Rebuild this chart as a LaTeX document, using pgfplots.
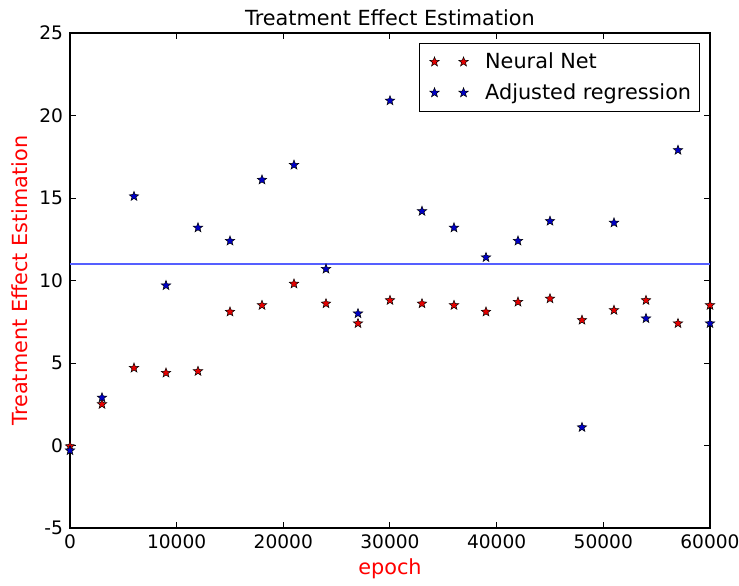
\documentclass[border=0pt]{standalone}
\usepackage{fontspec}
\setmainfont{DejaVu Sans}
\usepackage{pgfplots}
\pgfplotsset{compat=1.18}
\definecolor{nnred}{RGB}{230,0,0}
\definecolor{regblue}{RGB}{0,0,200}
\definecolor{reflineblue}{RGB}{85,95,255}

% filled five-pointed star, like matplotlib's '*'
\pgfdeclareplotmark{fstar}{%
  \pgfpathmoveto{\pgfqpointpolar{90}{\pgfplotmarksize}}%
  \pgfpathlineto{\pgfqpointpolar{126}{0.42\pgfplotmarksize}}%
  \pgfpathlineto{\pgfqpointpolar{162}{\pgfplotmarksize}}%
  \pgfpathlineto{\pgfqpointpolar{198}{0.42\pgfplotmarksize}}%
  \pgfpathlineto{\pgfqpointpolar{234}{\pgfplotmarksize}}%
  \pgfpathlineto{\pgfqpointpolar{270}{0.42\pgfplotmarksize}}%
  \pgfpathlineto{\pgfqpointpolar{306}{\pgfplotmarksize}}%
  \pgfpathlineto{\pgfqpointpolar{342}{0.42\pgfplotmarksize}}%
  \pgfpathlineto{\pgfqpointpolar{18}{\pgfplotmarksize}}%
  \pgfpathlineto{\pgfqpointpolar{54}{0.42\pgfplotmarksize}}%
  \pgfpathclose
  \pgfusepathqfillstroke
}

% two stars side by side for the legend (matplotlib numpoints=2)
\newcommand\legmarks[1]{%
  \begin{pgfscope}
    \pgfpathrectangle{\pgfpoint{0cm}{-3pt}}{\pgfpoint{1.02cm}{6pt}}%
    \pgfusepath{use as bounding box}%
    \pgfsetfillcolor{#1}\pgfsetstrokecolor{black}%
    \pgfsetlinewidth{0.25pt}\pgfsetplotmarksize{2.5pt}%
    \begin{pgfscope}\pgftransformshift{\pgfpoint{0.2cm}{0pt}}\pgfuseplotmark{fstar}\end{pgfscope}%
    \begin{pgfscope}\pgftransformshift{\pgfpoint{0.71cm}{0pt}}\pgfuseplotmark{fstar}\end{pgfscope}%
  \end{pgfscope}}

\begin{document}
\begin{tikzpicture}
\begin{axis}[
    at={(0,0)}, anchor=south west,
    scale only axis,
    width=320pt, height=247.5pt,
    xmin=0, xmax=60000,
    ymin=-5, ymax=25,
    xtick={0,10000,20000,30000,40000,50000,60000},
    ytick={-5,0,5,10,15,20,25},
    scaled x ticks=false,
    /pgf/number format/.cd, set thousands separator={}, assume math mode=true,
    /pgfplots/.cd,
    tick align=inside,
    major tick length=3pt,
    tick style={black, line width=0.5pt},
    axis line style={line width=0.7pt},
    ticklabel style={font=\fontsize{9.3}{11}\selectfont},
    title={Treatment Effect Estimation},
    title style={font=\fontsize{10.4}{12}\selectfont, yshift=-6pt},
    xlabel={epoch},
    ylabel={Treatment Effect Estimation},
    label style={font=\fontsize{10.4}{12}\selectfont, text=red},
    xlabel style={yshift=2pt},
    ylabel style={yshift=-1pt},
    legend style={at={(rel axis cs:0.984,0.98)}, anchor=north east,
        font=\fontsize{10.4}{12.5}\selectfont, draw=black, line width=0.6pt,
        row sep=2pt, inner xsep=2pt, inner ysep=2.5pt},
    legend cell align={left},
]

\addplot[only marks, mark=fstar, mark size=2.5pt,
    mark options={fill=nnred, draw=black, line width=0.25pt},
    legend image code/.code={\legmarks{nnred}}]
coordinates {
(0,-0.05) (3000,2.5) (6000,4.7) (9000,4.4) (12000,4.5) (15000,8.1)
(18000,8.5) (21000,9.8) (24000,8.6) (27000,7.4) (30000,8.8) (33000,8.6)
(36000,8.5) (39000,8.1) (42000,8.7) (45000,8.9) (48000,7.6) (51000,8.2)
(54000,8.8) (57000,7.4) (60000,8.5)
};
\addlegendentry{Neural Net}

\addplot[only marks, mark=fstar, mark size=2.5pt,
    mark options={fill=regblue, draw=black, line width=0.25pt},
    legend image code/.code={\legmarks{regblue}}]
coordinates {
(0,-0.3) (3000,2.9) (6000,15.1) (9000,9.7) (12000,13.2) (15000,12.4)
(18000,16.1) (21000,17.0) (24000,10.7) (27000,8.0) (30000,20.9) (33000,14.2)
(36000,13.2) (39000,11.4) (42000,12.4) (45000,13.6) (48000,1.1) (51000,13.5)
(54000,7.7) (57000,17.9) (60000,7.4)
};
\addlegendentry{Adjusted regression}

\addplot[reflineblue, line width=1.1pt, forget plot] coordinates {(0,11) (60000,11)};

\end{axis}
\pgfresetboundingbox
\useasboundingbox (-35pt,-28.5pt) rectangle (334.5pt,264pt);
\end{tikzpicture}
\end{document}
